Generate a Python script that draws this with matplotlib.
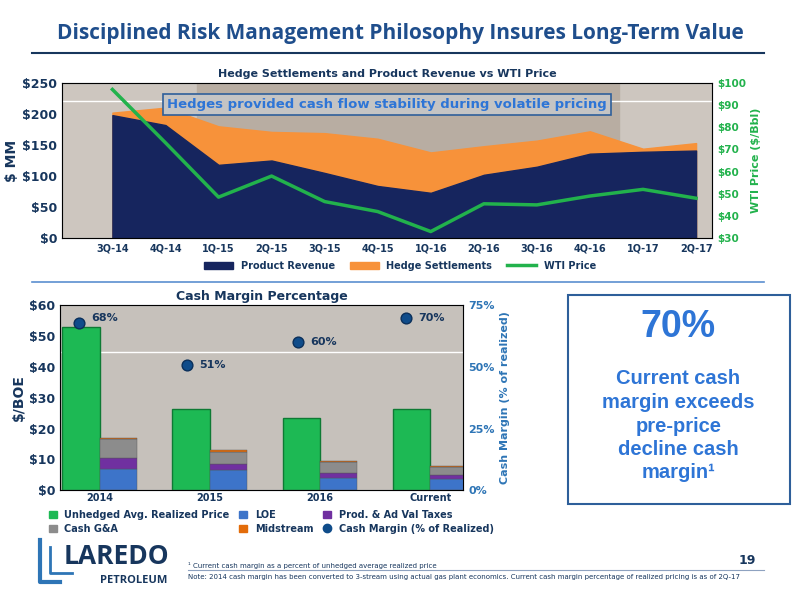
import matplotlib
matplotlib.use("Agg")
import matplotlib.pyplot as plt
from matplotlib.patches import Rectangle
import numpy as np

quarters = ["3Q-14","4Q-14","1Q-15","2Q-15","3Q-15","4Q-15","1Q-16","2Q-16","3Q-16","4Q-16","1Q-17","2Q-17"]
product_revenue = [198,182,118,125,105,84,73,102,115,136,139,141]
hedge_settlements = [4,28,62,46,64,76,65,46,42,36,5,12]
wti_price = [97,73,48.5,58,46.5,42,33,45.5,45,49,52,48]

years = ["2014","2015","2016","Current"]
realized = [53,26.5,23.5,26.5]
loe = [7,6.5,4,3.5]
taxes = [3.5,2,1.5,1.5]
cash_ga = [6,4,3.5,2.5]
midstream = [0.5,0.5,0.5,0.5]
cash_margin = [68,51,60,70]

dblue = "#17365d"
tblue = "#1f4e8c"
fig = plt.figure(figsize=(8,6), dpi=100)
fig.patch.set_facecolor("white")
fam = ["Open Sans","DejaVu Sans"]

fig.text(0.5,0.945,"Disciplined Risk Management Philosophy Insures Long-Term Value",
         ha="center",va="center",fontsize=15,fontweight="bold",color=tblue,family=fam)
fig.add_artist(plt.Line2D([0.04,0.955],[0.912,0.912],color=dblue,lw=1.5))
fig.add_artist(plt.Line2D([0.04,0.955],[0.53,0.53],color="#5b8fd0",lw=1.2))

# Top chart
ax = fig.add_axes([0.0775,0.603,0.8125,0.259])
x = np.arange(len(quarters))
ax.set_facecolor("#cdc6bf")
ax.axvspan(1.6,9.55,color="#b8ada2",zorder=0)
ax.axhline(220,color="white",lw=1,zorder=1)
total = np.array(product_revenue)+np.array(hedge_settlements)
ax.fill_between(x,0,total,color="#f7923a",zorder=2)
ax.fill_between(x,0,product_revenue,color="#16255e",zorder=3)
ax.set_ylim(0,250); ax.set_xlim(-0.95,11.3)
ax.set_yticks(range(0,251,50)); ax.set_yticklabels([f"${v}" for v in range(0,251,50)])
ax.set_xticks(x); ax.set_xticklabels(quarters)
ax.tick_params(axis="y",labelsize=9,colors=dblue,length=0)
ax.tick_params(axis="x",labelsize=7,colors=dblue,length=0)
for t in ax.get_yticklabels()+ax.get_xticklabels(): t.set_fontweight("bold")
ax.set_ylabel("$ MM",fontsize=10,fontweight="bold",color=dblue,labelpad=2)
for s in ax.spines.values(): s.set_color("#8ea2c0")
ax2 = ax.twinx()
ax2.plot(x,wti_price,color="#22b24c",lw=2.5,zorder=5)
ax2.set_ylim(30,100)
ax2.set_yticks(range(30,101,10)); ax2.set_yticklabels([f"${v}" for v in range(30,101,10)])
ax2.tick_params(axis="y",labelsize=7.5,colors="#22b24c",length=0)
for t in ax2.get_yticklabels(): t.set_fontweight("bold")
ax2.set_ylabel("WTI Price ($/Bbl)",fontsize=8,fontweight="bold",color="#22b24c",labelpad=4)
ax.set_title("Hedge Settlements and Product Revenue vs WTI Price",fontsize=8,fontweight="bold",color=dblue,pad=4)
ax.text(0.5,0.86,"Hedges provided cash flow stability during volatile pricing",transform=ax.transAxes,
        ha="center",va="center",fontsize=9.5,fontweight="bold",color="#2e75d6",
        bbox=dict(boxstyle="square,pad=0.3",fc="#c4c4c4",ec="#2e5f9a",lw=1.2),zorder=6)
h = [Rectangle((0,0),1,1,color="#16255e"),Rectangle((0,0),1,1,color="#f7923a"),plt.Line2D([],[],color="#22b24c",lw=2.5)]
lg = fig.legend(h,["Product Revenue","Hedge Settlements","WTI Price"],loc="center",bbox_to_anchor=(0.5,0.557),
           ncol=3,frameon=False,handlelength=3,columnspacing=1.5,prop=dict(weight="bold",size=7))
for t in lg.get_texts(): t.set_color(dblue)

# Bottom chart
bx = fig.add_axes([0.075,0.183,0.504,0.308])
bx.set_facecolor("#c6c1bb")
bx.axhline(45,color="white",lw=1,zorder=1)
xi = np.arange(len(years)); w = 0.34
bx.bar(xi-w/2,realized,w,color="#1db954",edgecolor="#0e7a34",lw=1,zorder=2)
b = np.zeros(4)
for vals,c in [(loe,"#3d74c9"),(taxes,"#7030a0"),(cash_ga,"#8c8c8c"),(midstream,"#e36c0a")]:
    bx.bar(xi+w/2,vals,w,bottom=b,color=c,edgecolor="#555555",lw=0.3,zorder=2)
    b += np.array(vals)
bx.set_xlim(-0.36,3.3); bx.set_ylim(0,60)
bx.set_yticks(range(0,61,10)); bx.set_yticklabels([f"${v}" for v in range(0,61,10)])
bx.set_xticks(xi); bx.set_xticklabels(years)
bx.tick_params(axis="y",labelsize=9,colors=dblue,length=0)
bx.tick_params(axis="x",labelsize=7,colors=dblue,length=0,pad=2)
for t in bx.get_yticklabels()+bx.get_xticklabels(): t.set_fontweight("bold")
bx.set_ylabel("$/BOE",fontsize=10,fontweight="bold",color=dblue,labelpad=2)
for s in bx.spines.values(): s.set_color("#8ea2c0")
bx.set_title("Cash Margin Percentage",fontsize=9,fontweight="bold",color=dblue,pad=4)
bx2 = bx.twinx()
dx = [-0.19,0.79,1.8,2.78]
bx2.scatter(dx,cash_margin,s=60,color="#0f4c8a",edgecolor="#0a2f5a",zorder=5)
for xx,v in zip(dx,cash_margin):
    bx2.text(xx+0.11,v+(2 if v==68 else 0),f"{v}%",fontsize=8,fontweight="bold",color=dblue,va="center")
bx2.set_ylim(0,75); bx2.set_yticks([0,25,50,75]); bx2.set_yticklabels(["0%","25%","50%","75%"])
bx2.tick_params(axis="y",labelsize=8,colors="#2e75b6",length=0)
for t in bx2.get_yticklabels(): t.set_fontweight("bold")
bx2.set_ylabel("Cash Margin (% of realized)",fontsize=8,fontweight="bold",color="#2e75b6",labelpad=4)

lh = [Rectangle((0,0),1,1,color="#1db954"),Rectangle((0,0),1,1,color="#3d74c9"),
      Rectangle((0,0),1,1,color="#7030a0"),Rectangle((0,0),1,1,color="#8c8c8c"),
      Rectangle((0,0),1,1,color="#e36c0a"),
      plt.Line2D([],[],marker="o",ls="",color="#0f4c8a",ms=6)]
ll = ["Unhedged Avg. Realized Price","LOE","Prod. & Ad Val Taxes","Cash G&A","Midstream","Cash Margin (% of Realized)"]
leg = fig.legend([lh[0],lh[3],lh[1],lh[4],lh[2],lh[5]],[ll[0],ll[3],ll[1],ll[4],ll[2],ll[5]],
                 loc="upper left",bbox_to_anchor=(0.05,0.165),ncol=3,frameon=False,
                 handlelength=0.8,handleheight=0.8,columnspacing=1.0,labelspacing=0.4,
                 prop=dict(weight="bold",size=7))
for t in leg.get_texts(): t.set_color(dblue)

# Right box
fig.add_artist(Rectangle((0.71,0.16),0.277,0.348,transform=fig.transFigure,fill=False,ec="#2e5f9a",lw=1.5))
fig.text(0.848,0.455,"70%",ha="center",va="center",fontsize=27,fontweight="bold",color="#2e75d6",family=["Liberation Sans","DejaVu Sans"])
fig.text(0.848,0.29,"Current cash\nmargin exceeds\npre-price\ndecline cash\nmargin¹",ha="center",va="center",
         fontsize=14.5,fontweight="bold",color="#2e75d6",linespacing=1.3,family=["Liberation Sans","DejaVu Sans"])

# Logo & footnotes
fig.text(0.08,0.073,"LAREDO",fontsize=19,fontweight="bold",color=dblue,va="center",family=fam)
fig.text(0.125,0.032,"PETROLEUM",fontsize=8,fontweight="bold",color=dblue,va="center",family=fam)
fig.add_artist(plt.Line2D([0.05,0.05,0.075],[0.1,0.03,0.03],color="#2e75b6",lw=3))
fig.add_artist(plt.Line2D([0.062,0.062,0.09],[0.088,0.045,0.045],color="#2e75b6",lw=2))
fig.text(0.235,0.058,"¹ Current cash margin as a percent of unhedged average realized price",fontsize=5,color=dblue,va="center")
fig.text(0.235,0.038,"Note: 2014 cash margin has been converted to 3-stream using actual gas plant economics. Current cash margin percentage of realized pricing is as of 2Q-17",
         fontsize=5,color=dblue,va="center")
fig.text(0.945,0.065,"19",fontsize=9,fontweight="bold",color=dblue,ha="right",va="center")
fig.add_artist(plt.Line2D([0.235,0.955],[0.05,0.05],color="#8ea2c0",lw=0.8))

fig.savefig("out.png",dpi=100)
